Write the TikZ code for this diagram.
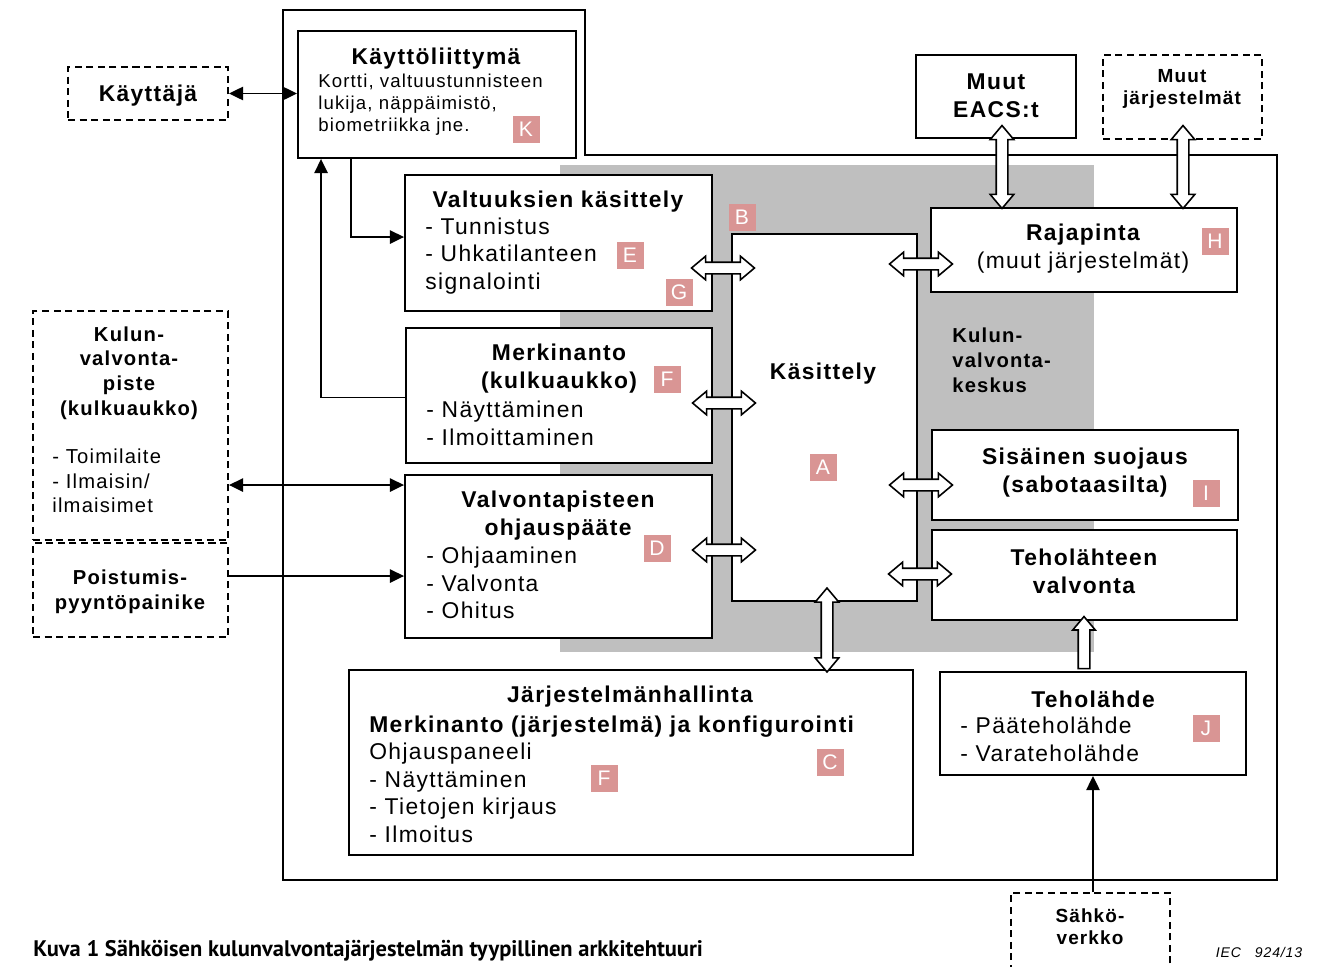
\documentclass[tikz,border=0pt]{standalone}
\usepackage{fontspec}
\setmainfont{Liberation Sans}[LetterSpace=6]
\newfontfamily\capfont{PT Sans}
\usetikzlibrary{arrows.meta, fit, calc, shapes.arrows}
\definecolor{TagPink}{RGB}{217,149,148}
\definecolor{PanelGray}{RGB}{191,191,191}

\begin{document}
\begin{tikzpicture}[
    x=0.02cm, y=-0.02cm,
    box/.style={draw, line width=1.1pt, fill=white, inner sep=0pt},
    dbox/.style={draw, line width=1.1pt, dash pattern=on 4pt off 2.6pt, inner sep=0pt},
    flow/.style={line width=1.1pt, -{Triangle[length=8pt, width=7.5pt]}},
    both/.style={line width=1.1pt, {Triangle[length=8pt, width=7.5pt]}-{Triangle[length=8pt, width=7.5pt]}},
    darr/.style={double arrow, draw, fill=white, line width=0.9pt, inner xsep=0pt, inner ysep=0.1cm,
        minimum width=0.44cm, double arrow head extend=0.12cm, double arrow tip angle=80},
    sarr/.style={single arrow, draw, fill=white, line width=0.9pt, inner xsep=0pt, inner ysep=0.1cm,
        minimum width=0.42cm, single arrow head extend=0.11cm, single arrow tip angle=80},
    tag/.style={fill=TagPink, text=white, minimum width=0.54cm, minimum height=0.54cm,
        inner sep=0pt, font=\fontsize{12}{12}\selectfont},
    ttlL/.style={font=\bfseries\fontsize{13}{15.9}\selectfont, align=center, inner sep=0pt, yshift=-1.5pt},
    ttlM/.style={font=\bfseries\fontsize{11.5}{14.1}\selectfont, align=center, inner sep=0pt, yshift=-1.2pt},
    ttlS/.style={font=\bfseries\fontsize{10.8}{12.5}\selectfont, align=center, inner sep=0pt, yshift=-0.8pt},
    lstL/.style={font=\fontsize{13}{15.7}\selectfont, align=left, anchor=west, inner sep=0pt, yshift=-0.6pt},
    lstM/.style={font=\fontsize{11.5}{13.9}\selectfont, align=left, anchor=west, inner sep=0pt},
    lstS/.style={font=\fontsize{10.6}{12.5}\selectfont, align=left, anchor=west, inner sep=0pt},
]
\path[use as bounding box] (0,0) rectangle (1319,967);
\clip (0,0) rectangle (1319,967);

% kulunvalvontakeskus
\fill[PanelGray] (560,165) rectangle (1094,652);
\draw[line width=1.1pt] (283,10) -- (585,10) -- (585,155) -- (1277,155) -- (1277,880) -- (283,880) -- cycle;

% laatikot
\node[dbox, fit={(68,67) (228,120)}] (kay) {};
\node[box, fit={(298,31) (576,158)}] (kl) {};
\node[box, fit={(916,55) (1076,138)}] (eacs) {};
\node[dbox, fit={(1103,55) (1262,139)}] (mj) {};
\node[box, fit={(405,175) (712,311)}] (valt) {};
\node[box, fit={(931,208) (1237,292)}] (raja) {};
\node[box, fit={(732,234) (917,601)}] (kas) {};
\node[box, fit={(406,328) (712,463)}] (merk) {};
\node[box, fit={(405,475) (712,638)}] (vp) {};
\node[dbox, fit={(33,311) (228,540)}] (kvp) {};
\node[dbox, fit={(33,543) (228,637)}] (pois) {};
\node[box, fit={(932,430) (1238,520)}] (sis) {};
\node[box, fit={(932,530) (1237,620)}] (tv) {};
\node[box, fit={(349,670) (913,855)}] (jh) {};
\node[box, fit={(940,672) (1246,775)}] (teho) {};
\node[dbox, fit={(1011,893) (1170,990)}] (sahko) {};

% tekstit
\node[ttlL] (kay-t) at (148,93) {Käyttäjä};
\node[ttlL] (kl-t) at (436,56) {Käyttöliittymä};
\node[lstS] (kl-l) at (318,105) {Kortti, valtuustunnisteen\\lukija, näppäimistö,\\biometriikka jne.};
\node[ttlL] (eacs-t) at (996,93) {Muut\\EACS:t};
\node[ttlS] (mj-t) at (1182,88) {Muut\\järjestelmät};
\node[ttlL] (valt-t) at (558,199) {Valtuuksien käsittely};
\node[lstL] (valt-l) at (425,255) {- Tunnistus\\- Uhkatilanteen\\signalointi};
\node[ttlL] (raja-t) at (1083,232) {Rajapinta};
\node[ttlL, font=\fontsize{13}{15.9}\selectfont] (raja-l) at (1083,260) {(muut järjestelmät)};
\node[ttlL] (merk-t) at (559,366) {Merkinanto\\(kulkuaukko)};
\node[lstL] (merk-l) at (426,422) {- Näyttäminen\\- Ilmoittaminen};
\node[ttlL] (kas-t) at (823,371) {Käsittely};
\node[ttlM, align=left, anchor=west, yshift=0pt] (kes-t) at (952,358) {Kulun-\\valvonta-\\keskus};
\node[ttlM] (kvp-t) at (129,371) {Kulun-\\valvonta-\\piste\\(kulkuaukko)};
\node[lstM] (kvp-l) at (52,481) {- Toimilaite\\- Ilmaisin/\\ilmaisimet};
\node[ttlM] (pois-t) at (130,590) {Poistumis-\\pyyntöpainike};
\node[ttlL] (vp-t) at (558,513) {Valvontapisteen\\ohjauspääte};
\node[lstL] (vp-l) at (426,582) {- Ohjaaminen\\- Valvonta\\- Ohitus};
\node[ttlL] (sis-t) at (1085,470) {Sisäinen suojaus\\(sabotaasilta)};
\node[ttlL] (tv-t) at (1084,569) {Teholähteen\\valvonta};
\node[ttlL] (jh-t) at (630,694) {Järjestelmänhallinta};
\node[lstL] (jh-l) at (369,778) {\textbf{Merkinanto (järjestelmä) ja konfigurointi}\\Ohjauspaneeli\\- Näyttäminen\\- Tietojen kirjaus\\- Ilmoitus};
\node[ttlL] (teho-t) at (1093,697) {Teholähde};
\node[lstL] (teho-l) at (960,738) {- Pääteholähde\\- Varateholähde};
\node[ttlS] (sahko-t) at (1090,925) {Sähkö-\\verkko};

% tunnukset
\node[tag] (tK) at (526,129) {K};
\node[tag] (tB) at (742,217) {B};
\node[tag] (tE) at (630,255) {E};
\node[tag] (tG) at (679,292) {G};
\node[tag] (tH) at (1215,241) {H};
\node[tag] (tF1) at (667,379) {F};
\node[tag] (tA) at (823,467) {A};
\node[tag] (tD) at (657,548) {D};
\node[tag] (tI) at (1206,493) {I};
\node[tag] (tJ) at (1206,728) {J};
\node[tag] (tF2) at (604,778) {F};
\node[tag] (tC) at (830,762) {C};

% yhteydet
\coordinate (vpin) at ($(vp.north west)+(0,11)$);
\coordinate (poisin) at ($(vp.north west)+(0,102)$);
\draw[both] (kay.east) -- (kay.east -| kl.west);
\draw[flow] ($(kl.south west)+(54,0)$) |- ($(valt.north west)+(0,63)$);
\draw[flow] ($(merk.west)+(0,2)$) -| ($(kl.south west)+(24,0)$);
\draw[both] (kvp.east |- vpin) -- (vpin);
\draw[flow] (pois.east |- poisin) -- (poisin);
\draw[flow] (teho.south |- sahko.north) -- (teho.south);

% rajapintanuolet
\node[darr, minimum height=1.26cm] (n-valt) at (723,268) {};
\node[darr, minimum height=1.26cm] (n-merk) at (724,403) {};
\node[darr, minimum height=1.26cm] (n-vp) at (724,550) {};
\node[darr, minimum height=1.26cm] (n-raja) at (921,264) {};
\node[darr, minimum height=1.26cm] (n-sis) at (921,485) {};
\node[darr, minimum height=1.26cm] (n-tv) at (920,574) {};
\node[darr, minimum height=1.66cm, rotate=90] (n-eacs) at (1002,167) {};
\node[darr, minimum height=1.66cm, rotate=90] (n-mj) at (1183,167) {};
\node[darr, minimum height=1.68cm, rotate=90] (n-jh) at (827,630) {};
\node[sarr, minimum height=1.04cm, rotate=90] (n-teho) at (1084,646) {};

\node[anchor=west, inner sep=0pt, font=\capfont\bfseries\fontsize{12.8}{14}\selectfont] (cap) at (33,951)
    {Kuva 1 Sähköisen kulunvalvontajärjestelmän tyypillinen arkkitehtuuri};
\node[inner sep=0pt, font=\itshape\fontsize{8}{9}\selectfont] (iec) at (1259,952) {IEC\quad 924/13};
\end{tikzpicture}
\end{document}
